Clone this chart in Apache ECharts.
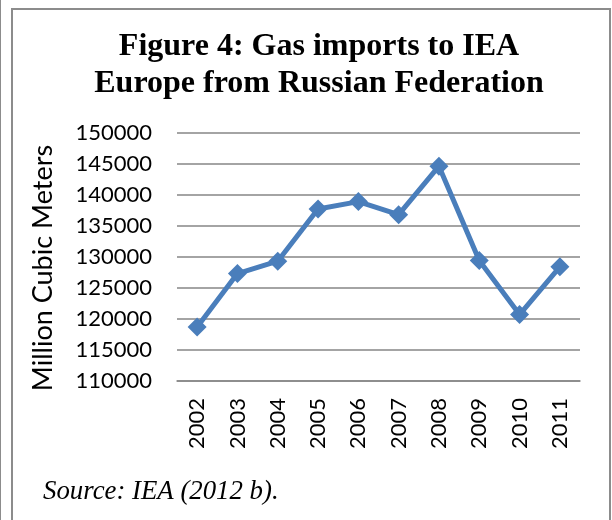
<!DOCTYPE html>
<html>
<head>
<meta charset="utf-8">
<script src="https://cdn.jsdelivr.net/npm/echarts@6/dist/echarts.min.js"></script>
<style>
html,body{margin:0;padding:0;background:#fff;}
#main{width:612px;height:520px;}
</style>
</head>
<body>
<div id="main"></div>
<script>
var years = ['2002','2003','2004','2005','2006','2007','2008','2009','2010','2011'];
var imports = [118700, 127300, 129300, 137700, 138900, 136800, 144600, 129400, 120700, 128400];
var yMin = 110000, yMax = 150000, yStep = 5000;

var chart = echarts.init(document.getElementById('main'), null, {renderer:'canvas'});
chart.setOption({
  animation: false,
  backgroundColor: '#ffffff',
  title: {
    text: 'Figure 4: Gas imports to IEA\nEurope from Russian Federation',
    left: 314, top: 23, textAlign: 'center',
    textStyle: {fontFamily: 'Liberation Serif', fontWeight: 'bold', fontSize: 32, lineHeight: 37, color: '#000'}
  },
  graphic: [
    {type:'rect', shape:{x:12, y:9, width:598, height:530}, style:{fill:'none', stroke:'#8c8c8c', lineWidth:2}, silent:true},
    {type:'rect', shape:{x:-1, y:-5, width:2, height:530}, style:{fill:'#8c8c8c'}, silent:true},
    {type:'text', x:43, y:268, rotation:Math.PI/2,
      style:{text:'Million Cubic Meters', fontFamily:'Lato', fontSize:27, fill:'#000', align:'center', verticalAlign:'middle'}},
    {type:'text', x:43, y:478,
      style:{text:'Source: IEA (2012 b).', fontFamily:'Liberation Serif', fontStyle:'italic', fontSize:26.8, fill:'#000', align:'left', verticalAlign:'top'}}
  ],
  grid: {left:177, right:32, top:132.7, bottom:139, containLabel:false},
  xAxis: {
    type:'category', data: years, boundaryGap:true,
    axisLine:{show:true, lineStyle:{color:'#868686', width:1.5}},
    axisTick:{show:false},
    axisLabel:{rotate:90, margin:17, fontFamily:'Lato', fontSize:22, color:'#000'}
  },
  yAxis: {
    type:'value', min:yMin, max:yMax, interval:yStep,
    axisLine:{show:false}, axisTick:{show:false},
    splitLine:{lineStyle:{color:'#868686', width:1.5}},
    axisLabel:{margin:25, fontFamily:'Lato', fontSize:22, color:'#000', formatter: function(v){ return String(v); }}
  },
  series: [{
    type:'line', data: imports,
    symbol:'diamond', symbolSize:19,
    lineStyle:{color:'#4a7ebb', width:5},
    itemStyle:{color:'#4a7ebb'}
  }]
});
</script>
</body>
</html>
